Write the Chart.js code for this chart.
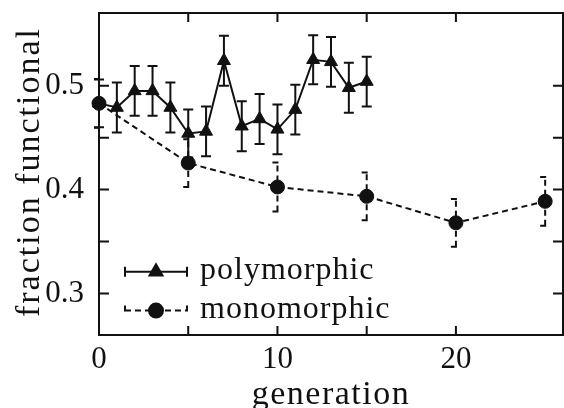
<!DOCTYPE html>
<html>
<head>
<meta charset="utf-8">
<script src="https://cdn.jsdelivr.net/npm/chart.js@4.4.1/dist/chart.umd.min.js"></script>
<style>
  html, body { margin: 0; padding: 0; background: #fff; }
</style>
</head>
<body>
<canvas id="myChart" width="564" height="408"></canvas>
<script>
// data
const polyGen = [0, 1, 2, 3, 4, 5, 6, 7, 8, 9, 10, 11, 12, 13, 14, 15];
const polyVal = [0.483, 0.479, 0.495, 0.495, 0.479, 0.454, 0.456, 0.524, 0.461, 0.468, 0.458, 0.477, 0.525, 0.523, 0.498, 0.504];
const polyErr = [0.023, 0.024, 0.024, 0.024, 0.024, 0.023, 0.024, 0.024, 0.024, 0.024, 0.024, 0.024, 0.0235, 0.024, 0.024, 0.024];

const monoGen = [0, 5, 10, 15, 20, 25];
const monoVal = [0.483, 0.4255, 0.4025, 0.3935, 0.368, 0.3887];
const monoErr = [0.0235, 0.023, 0.0235, 0.023, 0.023, 0.0235];

const xLabels = [0, 10, 20];
const yLabels = [0.3, 0.4, 0.5];

const serif = '"Liberation Serif", "Times New Roman", serif';
const ink = '#111';

// error bars under the points
const errorBars = {
  id: 'errorBars',
  beforeDatasetsDraw(chart) {
    const ctx = chart.ctx;
    const xs = chart.scales.x, ys = chart.scales.y;
    chart.data.datasets.forEach(ds => {
      ctx.save();
      ctx.strokeStyle = ink;
      ctx.lineWidth = 2;
      ctx.setLineDash(ds.borderDash || []);
      ds.data.forEach((p, i) => {
        const x = xs.getPixelForValue(p.x);
        const y1 = ys.getPixelForValue(p.y - ds.err[i]);
        const y2 = ys.getPixelForValue(p.y + ds.err[i]);
        ctx.beginPath();
        ctx.moveTo(x, y1); ctx.lineTo(x, y2);
        ctx.moveTo(x - 5, y1); ctx.lineTo(x + 5, y1);
        ctx.moveTo(x - 5, y2); ctx.lineTo(x + 5, y2);
        ctx.stroke();
      });
      ctx.restore();
    });
  }
};

// frame, inward ticks, titles and legend
const frame = {
  id: 'frame',
  afterDraw(chart) {
    const ctx = chart.ctx;
    const {left, right, top, bottom} = chart.chartArea;
    ctx.save();
    ctx.strokeStyle = ink;
    ctx.lineWidth = 2;
    ctx.setLineDash([]);
    ctx.strokeRect(left, top, right - left, bottom - top);

    ctx.beginPath();
    chart.scales.x.ticks.forEach(t => {
      const x = chart.scales.x.getPixelForValue(t.value);
      ctx.moveTo(x, bottom); ctx.lineTo(x, bottom - 9);
      ctx.moveTo(x, top); ctx.lineTo(x, top + 9);
    });
    chart.scales.y.ticks.forEach(t => {
      const y = chart.scales.y.getPixelForValue(t.value);
      ctx.moveTo(left, y); ctx.lineTo(left + 10, y);
      ctx.moveTo(right, y); ctx.lineTo(right - 10, y);
    });
    ctx.stroke();

    // axis titles
    ctx.fillStyle = ink;
    ctx.font = '34px ' + serif;
    ctx.textAlign = 'center';
    ctx.textBaseline = 'alphabetic';
    ctx.letterSpacing = '1.5px';
    ctx.fillText('generation', (left + right) / 2, 404);
    ctx.save();
    ctx.translate(39, (top + bottom) / 2 - 2);
    ctx.rotate(-Math.PI / 2);
    ctx.letterSpacing = '2px';
    ctx.fillText('fraction functional', 0, 0);
    ctx.restore();

    // legend
    const rows = [271.7, 310.6];
    chart.data.datasets.forEach((ds, i) => {
      const y = rows[i];
      ctx.save();
      ctx.setLineDash(ds.borderDash || []);
      ctx.beginPath();
      ctx.moveTo(125, y); ctx.lineTo(187, y);
      ctx.moveTo(125, y - 5); ctx.lineTo(125, y + 5);
      ctx.moveTo(187, y - 5); ctx.lineTo(187, y + 5);
      ctx.stroke();
      ctx.setLineDash([]);
      ctx.fillStyle = ink;
      Chart.helpers.drawPoint(ctx, {pointStyle: ds.pointStyle, radius: ds.pointRadius, borderWidth: 1}, 156, y);
      ctx.restore();
      ctx.fillStyle = ink;
      ctx.font = '32px ' + serif;
      ctx.textAlign = 'left';
      ctx.letterSpacing = '1px';
      ctx.fillText(ds.label, 200, y + 7);
    });
    ctx.restore();
  }
};

const ctx = document.getElementById('myChart').getContext('2d');

let myChart = new Chart(ctx, {
  type: 'line',
  data: {
    datasets: [{
      label: 'polymorphic',
      data: polyGen.map((g, i) => ({x: g, y: polyVal[i]})),
      err: polyErr,
      borderColor: ink,
      borderWidth: 2,
      borderDash: [],
      pointStyle: 'triangle',
      pointRadius: 7.5,
      pointBackgroundColor: ink,
      pointBorderColor: ink,
      pointBorderWidth: 1,
      tension: 0,
      clip: false,
      order: 1
    }, {
      label: 'monomorphic',
      data: monoGen.map((g, i) => ({x: g, y: monoVal[i]})),
      err: monoErr,
      borderColor: ink,
      borderWidth: 2,
      borderDash: [6, 4],
      pointStyle: 'circle',
      pointRadius: 7,
      pointBackgroundColor: ink,
      pointBorderColor: ink,
      pointBorderWidth: 1,
      tension: 0,
      clip: false,
      order: 0
    }]
  },
  options: {
    responsive: false,
    animation: false,
    layout: { autoPadding: false, padding: { top: 13, right: 1, left: 0, bottom: 0 } },
    plugins: {
      legend: { display: false },
      tooltip: { enabled: false }
    },
    scales: {
      x: {
        type: 'linear',
        min: 0,
        max: 26,
        afterFit: s => { s.height = 73; s.paddingLeft = 0; s.paddingRight = 0; },
        afterBuildTicks: s => { s.ticks = s.ticks.filter(t => t.value % 5 === 0); },
        grid: { display: false, drawTicks: false },
        border: { display: false },
        ticks: {
          stepSize: 5,
          autoSkip: false,
          maxRotation: 0,
          padding: 6,
          color: ink,
          font: { family: serif, size: 31 },
          callback: v => xLabels.includes(v) ? String(v) : ''
        }
      },
      y: {
        type: 'linear',
        min: 0.26,
        max: 0.57,
        afterFit: s => { s.width = 99; s.paddingTop = 0; s.paddingBottom = 0; },
        afterBuildTicks: s => {
          s.ticks = s.ticks.filter(t => Math.abs(t.value / 0.05 - Math.round(t.value / 0.05)) < 1e-6);
        },
        grid: { display: false, drawTicks: false },
        border: { display: false },
        ticks: {
          stepSize: 0.05,
          autoSkip: false,
          padding: 15,
          color: ink,
          font: { family: serif, size: 31 },
          callback: v => yLabels.some(l => Math.abs(l - v) < 1e-6) ? v.toFixed(1) : ''
        }
      }
    }
  },
  plugins: [errorBars, frame]
});
</script>
</body>
</html>
